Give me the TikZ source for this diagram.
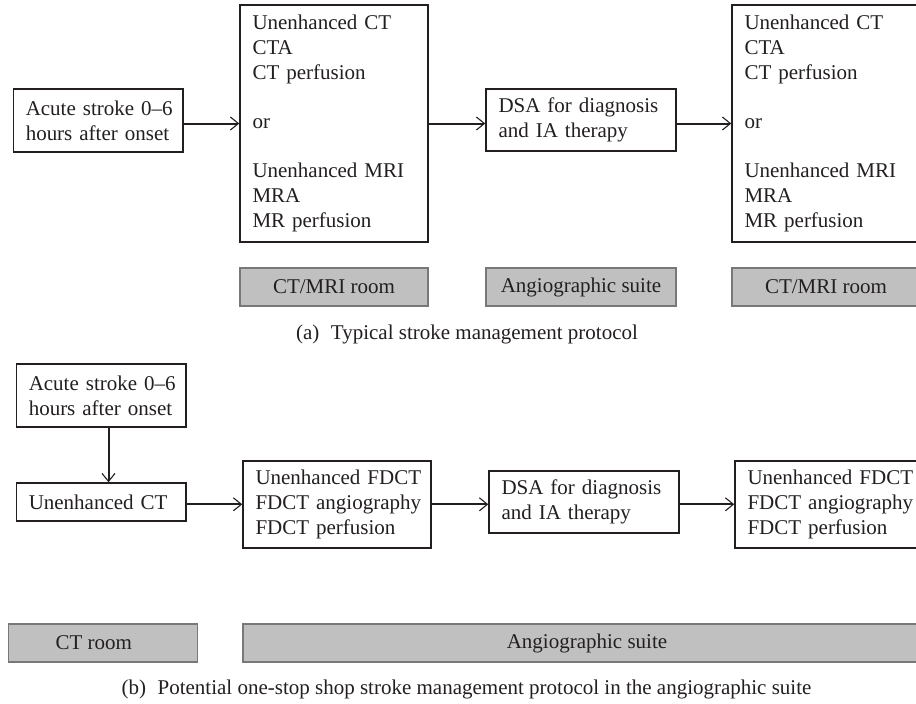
\documentclass[tikz,border=0pt]{standalone}
\usepackage{fontspec}
\setmainfont{Liberation Serif}
\usetikzlibrary{arrows.meta}
\definecolor{ink}{RGB}{35,31,32}
\definecolor{roomfill}{RGB}{192,192,192}
\definecolor{roomdraw}{RGB}{120,120,120}
\begin{document}
\begin{tikzpicture}[x=1pt,y=-1pt,
  txt/.style={font=\fontsize{21}{24.7}\selectfont, text=ink},
  box/.style={draw=ink, line width=1.5pt, fill=white, txt, align=left, inner xsep=12.5pt, inner ysep=0pt, anchor=center},
  room/.style={draw=roomdraw, fill=roomfill, line width=1.5pt, txt, inner sep=0pt, anchor=center, minimum height=38},
  arr/.style={-{Straight Barb[length=8pt,width=13pt,line width=1.1pt]}, draw=ink, line width=2pt}]
\clip (0,0) rectangle (916,704);
\fill[white] (0,0) rectangle (916,704);
% (a)
\node[box, text width=144.5, minimum height=63] (a1) at (98,120.5) {\mbox{Acute stroke 0–6}\\\mbox{hours after onset}};
\node[box, text width=163, minimum height=237] (a2) at (334,123.5) {\mbox{Unenhanced CT}\\CTA\\\mbox{CT perfusion}\\[24.7pt]or\\[24.7pt]\mbox{Unenhanced MRI}\\MRA\\\mbox{MR perfusion}};
\node[box, text width=165, minimum height=62] (a3) at (581,120) {\mbox{DSA for diagnosis}\\\mbox{and IA therapy}};
\node[box, text width=163, minimum height=237] (a4) at (826,123.5) {\mbox{Unenhanced CT}\\CTA\\\mbox{CT perfusion}\\[24.7pt]or\\[24.7pt]\mbox{Unenhanced MRI}\\MRA\\\mbox{MR perfusion}};
\node[room, minimum width=188] (ra1) at (334,287) {CT/MRI room};
\node[room, minimum width=190] (ra2) at (581,287) {Angiographic suite};
\node[room, minimum width=188] (ra3) at (826,287) {CT/MRI room};
\node[txt] (capa) at (467,334) {(a)\hspace{0.55em}Typical stroke management protocol};
\draw[arr] (a1.east |- a2.west) -- (a2.west);
\draw[arr] (a2.east) -- (a2.east -| a3.west);
\draw[arr] (a3.east |- a4.west) -- (a4.west);
% (b)
\node[box, text width=144.5, minimum height=63] (b1) at (101,395.5) {\mbox{Acute stroke 0–6}\\\mbox{hours after onset}};
\node[box, text width=144.5, minimum height=38] (b2) at (101,502) {\mbox{Unenhanced CT}};
\node[box, text width=163, minimum height=87] (b3) at (337,504.3) {\mbox{Unenhanced FDCT}\\\mbox{FDCT angiography}\\\mbox{FDCT perfusion}};
\node[box, text width=165, minimum height=62] (b4) at (584,502) {\mbox{DSA for diagnosis}\\\mbox{and IA therapy}};
\node[box, text width=163, minimum height=87] (b5) at (829,504.3) {\mbox{Unenhanced FDCT}\\\mbox{FDCT angiography}\\\mbox{FDCT perfusion}};
\node[room, minimum width=189] (rb1) at (102.8,643) {CT room\hspace*{18pt}};
\node[room, minimum width=688] (rb2) at (587,643) {Angiographic suite};
\node[txt] (capb) at (466.5,689) {(b)\hspace{0.55em}Potential one-stop shop stroke management protocol in the angiographic suite};
\draw[arr] ([xshift=7.5pt]b1.south) -- ([xshift=7.5pt]b2.north);
\draw[arr] (b2.east |- b3.west) -- (b3.west);
\draw[arr] (b3.east) -- (b3.east -| b4.west);
\draw[arr] (b4.east |- b5.west) -- (b5.west);
\end{tikzpicture}
\end{document}
